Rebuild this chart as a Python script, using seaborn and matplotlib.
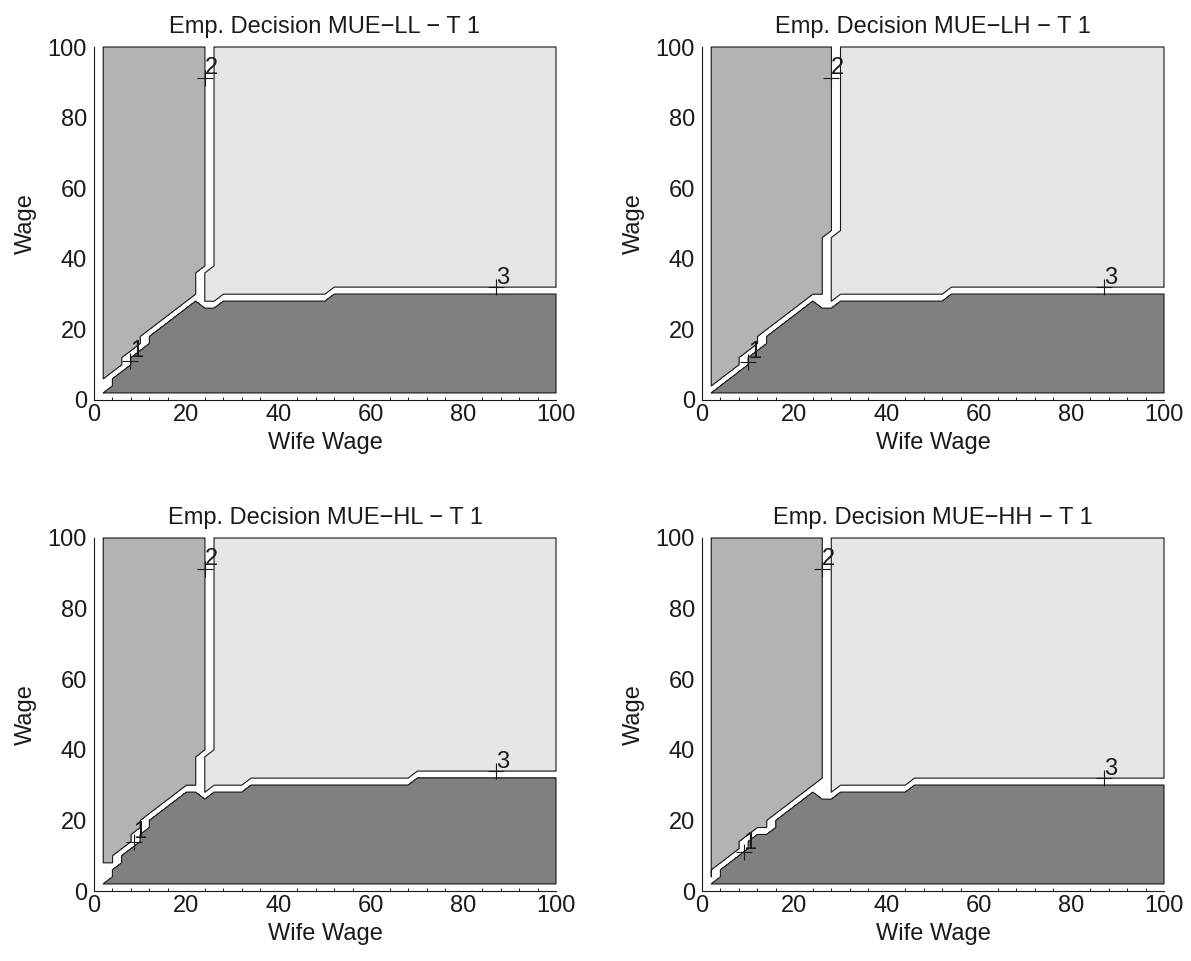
import numpy as np
import matplotlib
matplotlib.use('Agg')
import matplotlib.pyplot as plt
from matplotlib.ticker import MultipleLocator
import seaborn as sns

sns.set_theme(style='white')
plt.rcParams['font.family'] = ['Liberation Sans', 'DejaVu Sans']

# grid of wife wage (x) and wage (y)
wages = np.arange(2, 101, 2)

# step breakpoints (from value, result)
# dark_top: highest wage (per wife wage) in region 1
# upper_low: lowest wage (per wife wage) of region 2/3
# b_right: right-most wife wage of region 2 (per wage)
# c_left: left-most wife wage of region 3 (per wage)
ll_dark_top = [(2, 2), (4, 6), (6, 8), (8, 12), (10, 14), (12, 18), (14, 20), (16, 22), (18, 24),
               (20, 26), (22, 28), (24, 26), (28, 28), (52, 30)]
ll_upper_low = [(2, 6), (4, 8), (6, 10), (8, 14), (10, 16), (12, 20), (14, 22), (16, 24), (18, 26),
                (20, 28), (22, 30), (24, 28), (28, 30), (52, 32)]
ll_b_right = [(2, 22), (38, 24)]
ll_c_left = [(2, 24), (38, 26)]

lh_dark_top = [(2, 2), (4, 4), (6, 6), (8, 8), (10, 12), (12, 14), (14, 18), (16, 20), (18, 22),
               (20, 24), (22, 26), (24, 28), (26, 26), (30, 28), (54, 30)]
lh_upper_low = [(2, 4), (4, 6), (6, 8), (8, 10), (10, 14), (12, 16), (14, 20), (16, 22), (18, 24),
                (20, 26), (22, 28), (24, 30), (28, 28), (30, 30), (54, 32)]
lh_b_right = [(2, 26), (48, 28)]
lh_c_left = [(2, 28), (48, 30)]

hl_dark_top = [(2, 2), (4, 6), (6, 10), (8, 12), (10, 16), (12, 20), (14, 22), (16, 24), (18, 26),
               (20, 28), (24, 26), (26, 28), (34, 30), (70, 32)]
hl_upper_low = [(2, 8), (6, 12), (8, 14), (10, 18), (12, 22), (14, 24), (16, 26), (18, 28),
                (20, 30), (24, 28), (26, 30), (34, 32), (70, 34)]
hl_b_right = [(2, 22), (40, 24)]
hl_c_left = [(2, 24), (40, 26)]

hh_dark_top = [(2, 2), (4, 6), (6, 8), (8, 10), (10, 14), (12, 16), (16, 20), (18, 22), (20, 24),
               (22, 26), (24, 28), (26, 26), (30, 28), (46, 30)]
hh_upper_low = [(2, 4), (4, 8), (6, 10), (8, 12), (10, 16), (12, 18), (16, 22), (18, 24), (20, 26),
                (22, 28), (24, 30), (26, 32), (28, 28), (30, 30), (46, 32)]
hh_b_right = [(2, 26)]
hh_c_left = [(2, 28)]

# contour label positions (+ marks) for levels 1, 2, 3
label_text = ['1', '2', '3']
ll_label_x = [7.8, 24.0, 87.1]
ll_label_y = [11.1, 91.3, 32.0]
lh_label_x = [10.0, 28.0, 87.1]
lh_label_y = [10.9, 91.3, 32.0]
hl_label_x = [8.6, 24.0, 87.1]
hl_label_y = [14.0, 91.3, 34.0]
hh_label_x = [9.0, 26.0, 87.1]
hh_label_y = [11.0, 91.3, 32.0]

titles = ['Emp. Decision MUE\u2212LL \u2212 T 1', 'Emp. Decision MUE\u2212LH \u2212 T 1',
          'Emp. Decision MUE\u2212HL \u2212 T 1', 'Emp. Decision MUE\u2212HH \u2212 T 1']

region_colors = ['#808080', '#b3b3b3', '#e6e6e6']


def step(breaks, v):
    out = breaks[0][1]
    for s, val in breaks:
        if v >= s:
            out = val
    return out


def decision(dark_top, upper_low, b_right, c_left):
    D = np.zeros((len(wages), len(wages)), dtype=int)
    for j, x in enumerate(wages):
        for i, y in enumerate(wages):
            if y <= step(dark_top, x):
                D[i, j] = 1
            elif y >= step(upper_low, x):
                if x <= step(b_right, y):
                    D[i, j] = 2
                elif x >= step(c_left, y):
                    D[i, j] = 3
    return D


panels = [
    (ll_dark_top, ll_upper_low, ll_b_right, ll_c_left, ll_label_x, ll_label_y),
    (lh_dark_top, lh_upper_low, lh_b_right, lh_c_left, lh_label_x, lh_label_y),
    (hl_dark_top, hl_upper_low, hl_b_right, hl_c_left, hl_label_x, hl_label_y),
    (hh_dark_top, hh_upper_low, hh_b_right, hh_c_left, hh_label_x, hh_label_y),
]

W, H = 1191, 961
fig = plt.figure(figsize=(W / 100, H / 100), dpi=100)
# axes boxes in pixels: left, top
boxes = [(94, 47), (702, 47), (94, 538), (702, 538)]
aw, ah = 462, 353
fs = 17

# padded grid so that the outline also runs along the border
xs = np.concatenate([[2 - 1e-3], wages, [100 + 1e-3]])

for k, (box, pan) in enumerate(zip(boxes, panels)):
    ax = fig.add_axes([box[0] / W, 1 - (box[1] + ah) / H, aw / W, ah / H])
    D = np.pad(decision(*pan[:4]), 1)
    for lev in (1, 2, 3):
        Z = (D == lev).astype(float)
        ax.contourf(xs, xs, Z, levels=[0.99, 1.5], colors=[region_colors[lev - 1]])
        cs = ax.contour(xs, xs, Z, levels=[0.99], colors='k', linewidths=0.8)
        cs.set_clip_on(False)
    sns.scatterplot(x=pan[4], y=pan[5], marker='+', color='k', s=120, linewidth=0.8,
                    ax=ax, legend=False, zorder=5)
    for t, lx, ly in zip(label_text, pan[4], pan[5]):
        ax.annotate(t, (lx, ly), xytext=(0, 2.5), textcoords='offset points',
                    ha='left', va='baseline', fontsize=fs, color='k')
    ax.set_xlim(0, 100)
    ax.set_ylim(0, 100)
    ax.set_xticks(range(0, 101, 20))
    ax.set_yticks(range(0, 101, 20))
    ax.xaxis.set_minor_locator(MultipleLocator(4))
    ax.tick_params(axis='both', which='major', direction='in', length=4.5, width=0.7,
                   color='k', labelsize=fs, labelcolor='k', pad=5)
    ax.tick_params(axis='x', which='minor', direction='in', length=2.5, width=0.7,
                   color='k', bottom=True)
    ax.tick_params(axis='x', which='major', pad=3)
    for side in ('top', 'right'):
        ax.spines[side].set_visible(False)
    for side in ('left', 'bottom'):
        ax.spines[side].set_color('k')
        ax.spines[side].set_linewidth(0.8)
    ax.set_facecolor('white')
    ax.set_xlabel('Wife Wage', fontsize=fs, labelpad=4, color='k')
    ax.set_ylabel('Wage', fontsize=fs, labelpad=8, color='k')
    ax.set_title(titles[k], fontsize=fs, pad=10, color='k')

fig.savefig('out.png', dpi=100, facecolor='white')
